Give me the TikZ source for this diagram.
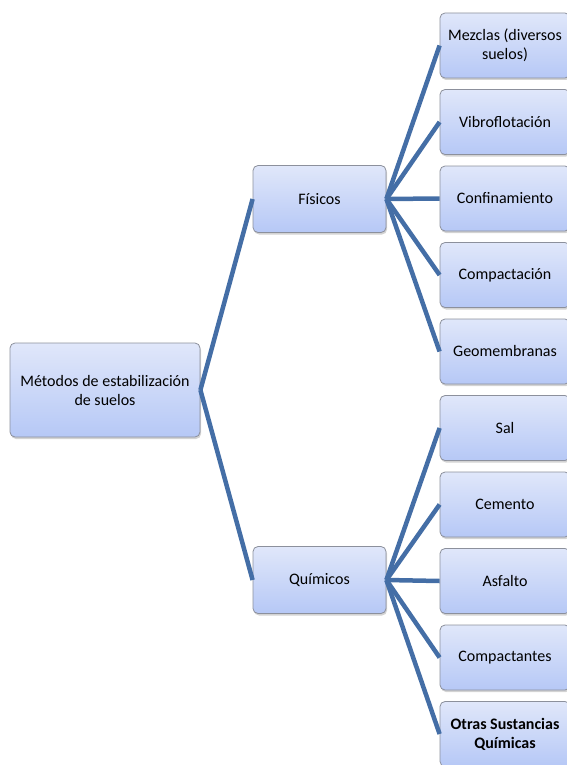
\documentclass[tikz,border=0pt]{standalone}
\usepackage{fontspec}
\setmainfont{Carlito}
\usetikzlibrary{shadows}

\definecolor{linkblue}{RGB}{68,110,166}
\definecolor{boxtop}{RGB}{224,231,250}
\definecolor{boxbot}{RGB}{182,200,246}
\definecolor{boxline}{RGB}{140,144,156}

\tikzset{
  box/.style={draw=boxline, line width=0.8pt, rounded corners=5pt,
    top color=boxtop, bottom color=boxbot, align=center,
    font=\fontsize{16}{19}\selectfont, inner sep=2pt,
    drop shadow={shadow xshift=1pt, shadow yshift=-2pt, opacity=0.35}},
  leaf/.style={box, minimum width=130pt, minimum height=65pt},
  mid/.style={box, minimum width=133pt, minimum height=67pt},
  link/.style={draw=linkblue, line width=4.5pt}
}

\begin{document}
\begin{tikzpicture}[x=1pt, y=-1pt]
\useasboundingbox (0,0) rectangle (566,765);

\node[box, minimum width=190pt, minimum height=94pt](root) at (105,390) {Métodos de estabilización\\de suelos};

\node[mid](fis) at (319.5,199) {Físicos};
\node[mid](qui) at (319.5,580) {Químicos};

\node[leaf](mez) at (505,45.5) {Mezclas (diversos\\suelos)};
\node[leaf](vib) at (505,122) {Vibroflotación};
\node[leaf](con) at (505,198.5) {Confinamiento};
\node[leaf](cpn) at (505,275) {Compactación};
\node[leaf](geo) at (505,351.5) {Geomembranas};
\node[leaf](sal) at (505,428) {Sal};
\node[leaf](cem) at (505,504.5) {Cemento};
\node[leaf](asf) at (505,581) {Asfalto};
\node[leaf](cpt) at (505,657.5) {Compactantes};
\node[leaf](otr) at (505,734) {\textbf{Otras Sustancias}\\\textbf{Químicas}};

\draw[link] (root.east) -- (fis.west);
\draw[link] (root.east) -- (qui.west);

\draw[link] (fis.east) -- (mez.west);
\draw[link] (fis.east) -- (vib.west);
\draw[link] (fis.east) -- (con.west);
\draw[link] (fis.east) -- (cpn.west);
\draw[link] (fis.east) -- (geo.west);

\draw[link] (qui.east) -- (sal.west);
\draw[link] (qui.east) -- (cem.west);
\draw[link] (qui.east) -- (asf.west);
\draw[link] (qui.east) -- (cpt.west);
\draw[link] (qui.east) -- (otr.west);
\end{tikzpicture}
\end{document}
